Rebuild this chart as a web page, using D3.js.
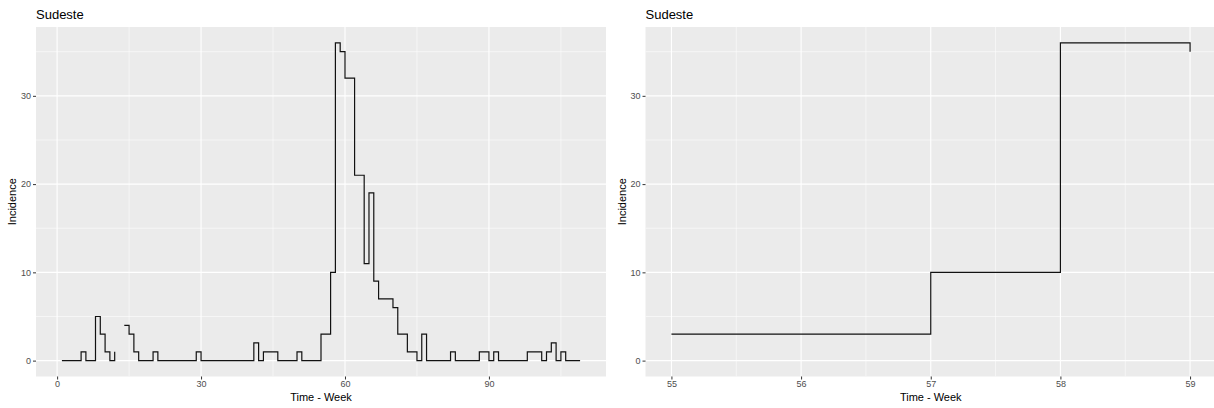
<!DOCTYPE html>
<html>
<head>
<meta charset="utf-8">
<script src="https://cdn.jsdelivr.net/npm/d3@7"></script>
<style>
  body { margin: 0; background: #fff; }
  svg { display: block; font-family: "Liberation Sans", Arial, sans-serif; }
</style>
</head>
<body>
<div id="chart"></div>
<script>
// weekly incidence, Sudeste (week 1 .. 109); null = missing week
const incidence = [
  0, 0, 0, 0, 1, 0, 0, 5, 3, 1,
  0, 1, null, 4, 3, 1, 0, 0, 0, 1,
  0, 0, 0, 0, 0, 0, 0, 0, 1, 0,
  0, 0, 0, 0, 0, 0, 0, 0, 0, 0,
  2, 0, 1, 1, 1, 0, 0, 0, 0, 1,
  0, 0, 0, 0, 3, 3, 10, 36, 35, 32,
  32, 21, 21, 11, 19, 9, 7, 7, 7, 6,
  3, 3, 1, 1, 0, 3, 0, 0, 0, 0,
  0, 1, 0, 0, 0, 0, 0, 1, 1, 0,
  1, 0, 0, 0, 0, 0, 0, 1, 1, 1,
  0, 1, 2, 0, 1, 0, 0, 0, 0
];
const firstWeek = 1;
const zoomWeeks = [55, 59];

const leftTicks = [0, 30, 60, 90];
const leftMinor = [15, 45, 75, 105];
const zoomTicks = [55, 56, 57, 58, 59];
const zoomMinor = [55.5, 56.5, 57.5, 58.5];
const yTicks = [0, 10, 20, 30];
const yMinor = [5, 15, 25, 35];
const panelTitle = "Sudeste";
const xTitle = "Time - Week";
const yTitle = "Incidence";

const W = 1214, H = 408;

const series = incidence.map((v, i) => ({week: firstWeek + i, value: v}));
const zoomSeries = series.filter(d => d.week >= zoomWeeks[0] && d.week <= zoomWeeks[1]);

const svg = d3.select("#chart").append("svg")
    .attr("width", W)
    .attr("height", H);

// ggplot style expansion of 5% each side
function expand(ext) {
  const pad = (ext[1] - ext[0]) * 0.05;
  return [ext[0] - pad, ext[1] + pad];
}

const yDomain = expand([0, d3.max(incidence)]);

function drawPanel(opts) {
  const {left, right, top, bottom, data, xTicks, xMinor, id} = opts;

  const x = d3.scaleLinear()
      .domain(expand(d3.extent(data, d => d.week)))
      .range([left, right]);
  const y = d3.scaleLinear()
      .domain(yDomain)
      .range([bottom, top]);

  const g = svg.append("g");

  g.append("clipPath").attr("id", id)
    .append("rect")
      .attr("x", left).attr("y", top)
      .attr("width", right - left).attr("height", bottom - top);

  // panel background
  g.append("rect")
      .attr("x", left).attr("y", top)
      .attr("width", right - left).attr("height", bottom - top)
      .attr("fill", "#ebebeb");

  const grid = g.append("g").attr("clip-path", "url(#" + id + ")");

  // minor gridlines
  grid.selectAll(".vminor").data(xMinor).enter().append("line")
      .attr("x1", d => x(d)).attr("x2", d => x(d))
      .attr("y1", top).attr("y2", bottom)
      .attr("stroke", "#fff").attr("stroke-width", 0.55);
  grid.selectAll(".hminor").data(yMinor).enter().append("line")
      .attr("y1", d => y(d)).attr("y2", d => y(d))
      .attr("x1", left).attr("x2", right)
      .attr("stroke", "#fff").attr("stroke-width", 0.55);

  // major gridlines
  grid.selectAll(".vmajor").data(xTicks).enter().append("line")
      .attr("x1", d => x(d)).attr("x2", d => x(d))
      .attr("y1", top).attr("y2", bottom)
      .attr("stroke", "#fff").attr("stroke-width", 1.1);
  grid.selectAll(".hmajor").data(yTicks).enter().append("line")
      .attr("y1", d => y(d)).attr("y2", d => y(d))
      .attr("x1", left).attr("x2", right)
      .attr("stroke", "#fff").attr("stroke-width", 1.1);

  // step line, broken where values are missing
  const line = d3.line()
      .defined(d => d.value !== null)
      .curve(d3.curveStepAfter)
      .x(d => x(d.week))
      .y(d => y(d.value));

  grid.append("path")
      .datum(data)
      .attr("d", line)
      .attr("fill", "none")
      .attr("stroke", "#111")
      .attr("stroke-width", 1.2);

  // axes
  const xAxis = g.append("g")
      .attr("transform", "translate(0," + bottom + ")")
      .call(d3.axisBottom(x).tickValues(xTicks).tickSize(3).tickPadding(1).tickFormat(d3.format("d")));
  const yAxis = g.append("g")
      .attr("transform", "translate(" + left + ",0)")
      .call(d3.axisLeft(y).tickValues(yTicks).tickSize(3).tickPadding(2).tickFormat(d3.format("d")));

  [xAxis, yAxis].forEach(a => {
    a.select(".domain").remove();
    a.selectAll(".tick line").attr("stroke", "#333").attr("stroke-width", 1);
    a.selectAll("text")
        .attr("fill", "#4d4d4d")
        .style("font-size", "9px")
        .style("font-family", "'Liberation Sans', Arial, sans-serif");
  });

  // titles
  g.append("text")
      .attr("x", left)
      .attr("y", top - 8)
      .attr("font-size", "13px")
      .attr("fill", "#000")
      .text(panelTitle);

  g.append("text")
      .attr("x", (left + Math.min(right, W)) / 2 + (right > W ? (right - W) / 2 : 0))
      .attr("y", H - 7)
      .attr("text-anchor", "middle")
      .attr("font-size", "11px")
      .attr("fill", "#000")
      .text(xTitle);

  g.append("text")
      .attr("transform", "translate(" + (left - 20) + "," + ((top + bottom) / 2) + ")rotate(-90)")
      .attr("text-anchor", "middle")
      .attr("font-size", "11px")
      .attr("fill", "#000")
      .text(yTitle);
}

drawPanel({left: 36, right: 606, top: 27, bottom: 376.5,
           data: series, xTicks: leftTicks, xMinor: leftMinor, id: "clipLeft"});
drawPanel({left: 645.5, right: 1216, top: 27, bottom: 376.5,
           data: zoomSeries, xTicks: zoomTicks, xMinor: zoomMinor, id: "clipRight"});
</script>
</body>
</html>
